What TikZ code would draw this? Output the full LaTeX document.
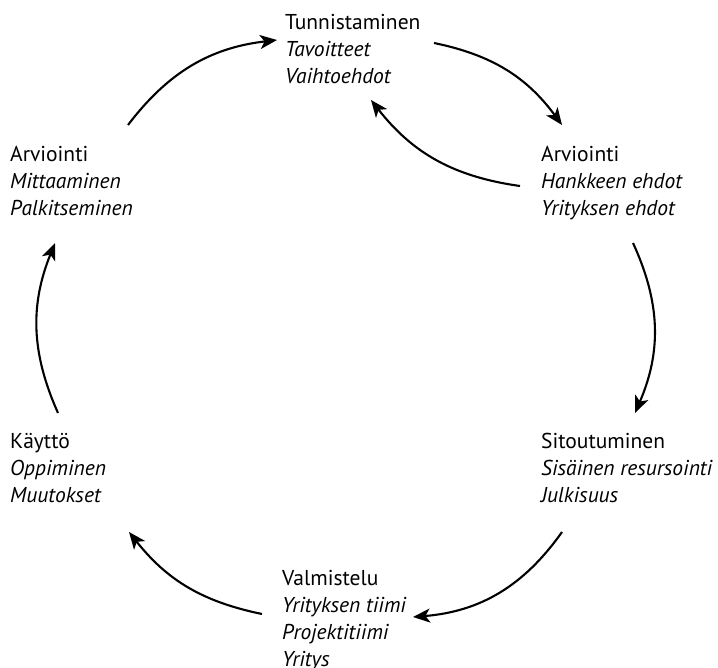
\documentclass[tikz,border=0pt]{standalone}
\usepackage{fontspec}
\setmainfont{PT Sans}
\usetikzlibrary{arrows.meta}
\begin{document}
\begin{tikzpicture}[x=1pt,y=-1pt,
  stage/.style={anchor=base west,align=left,inner sep=0pt,
    font=\fontsize{21.5}{27}\selectfont},
  flow/.style={line width=2.1pt,-{Stealth[length=17pt,width=14pt,inset=4.5pt]}}]
\useasboundingbox (0,0) rectangle (718,668);

% stage labels (placed at the baseline of their last line)
\node[stage] (tun) at (285,84) {Tunnistaminen\\\textit{Tavoitteet}\\\textit{Vaihtoehdot}};
\node[stage] (arvR) at (541,216) {Arviointi\\\textit{Hankkeen ehdot}\\\textit{Yrityksen ehdot}};
\node[stage] (sit) at (541,502) {Sitoutuminen\\\textit{Sisäinen resursointi}\\\textit{Julkisuus}};
\node[stage] (val) at (282,666) {Valmistelu\\\textit{Yrityksen tiimi}\\\textit{Projektitiimi}\\\textit{Yritys}};
\node[stage] (kay) at (10,502) {Käyttö\\\textit{Oppiminen}\\\textit{Muutokset}};
\node[stage] (arvL) at (10,216) {Arviointi\\\textit{Mittaaminen}\\\textit{Palkitseminen}};

% arrow end points
\coordinate (a1s) at (434,43);  \coordinate (a1e) at (562,125);
\coordinate (a2s) at (520,186); \coordinate (a2e) at (371,100);
\coordinate (a3s) at (633,243); \coordinate (a3e) at (635,413);
\coordinate (a4s) at (562,532); \coordinate (a4e) at (413,617);
\coordinate (a5s) at (262,614); \coordinate (a5e) at (129,532);
\coordinate (a6s) at (58,413);  \coordinate (a6e) at (55,243);
\coordinate (a7s) at (128,125); \coordinate (a7e) at (277,40);

% cycle arrows
\draw[flow] (a1s) to[bend left=21] (a1e);
\draw[flow] (a2s) to[bend left=22] (a2e);
\draw[flow] (a3s) to[bend left=24] (a3e);
\draw[flow] (a4s) to[bend left=25] (a4e);
\draw[flow] (a5s) to[bend left=20] (a5e);
\draw[flow] (a6s) to[bend left=23] (a6e);
\draw[flow] (a7s) to[bend left=23] (a7e);
\end{tikzpicture}
\end{document}
